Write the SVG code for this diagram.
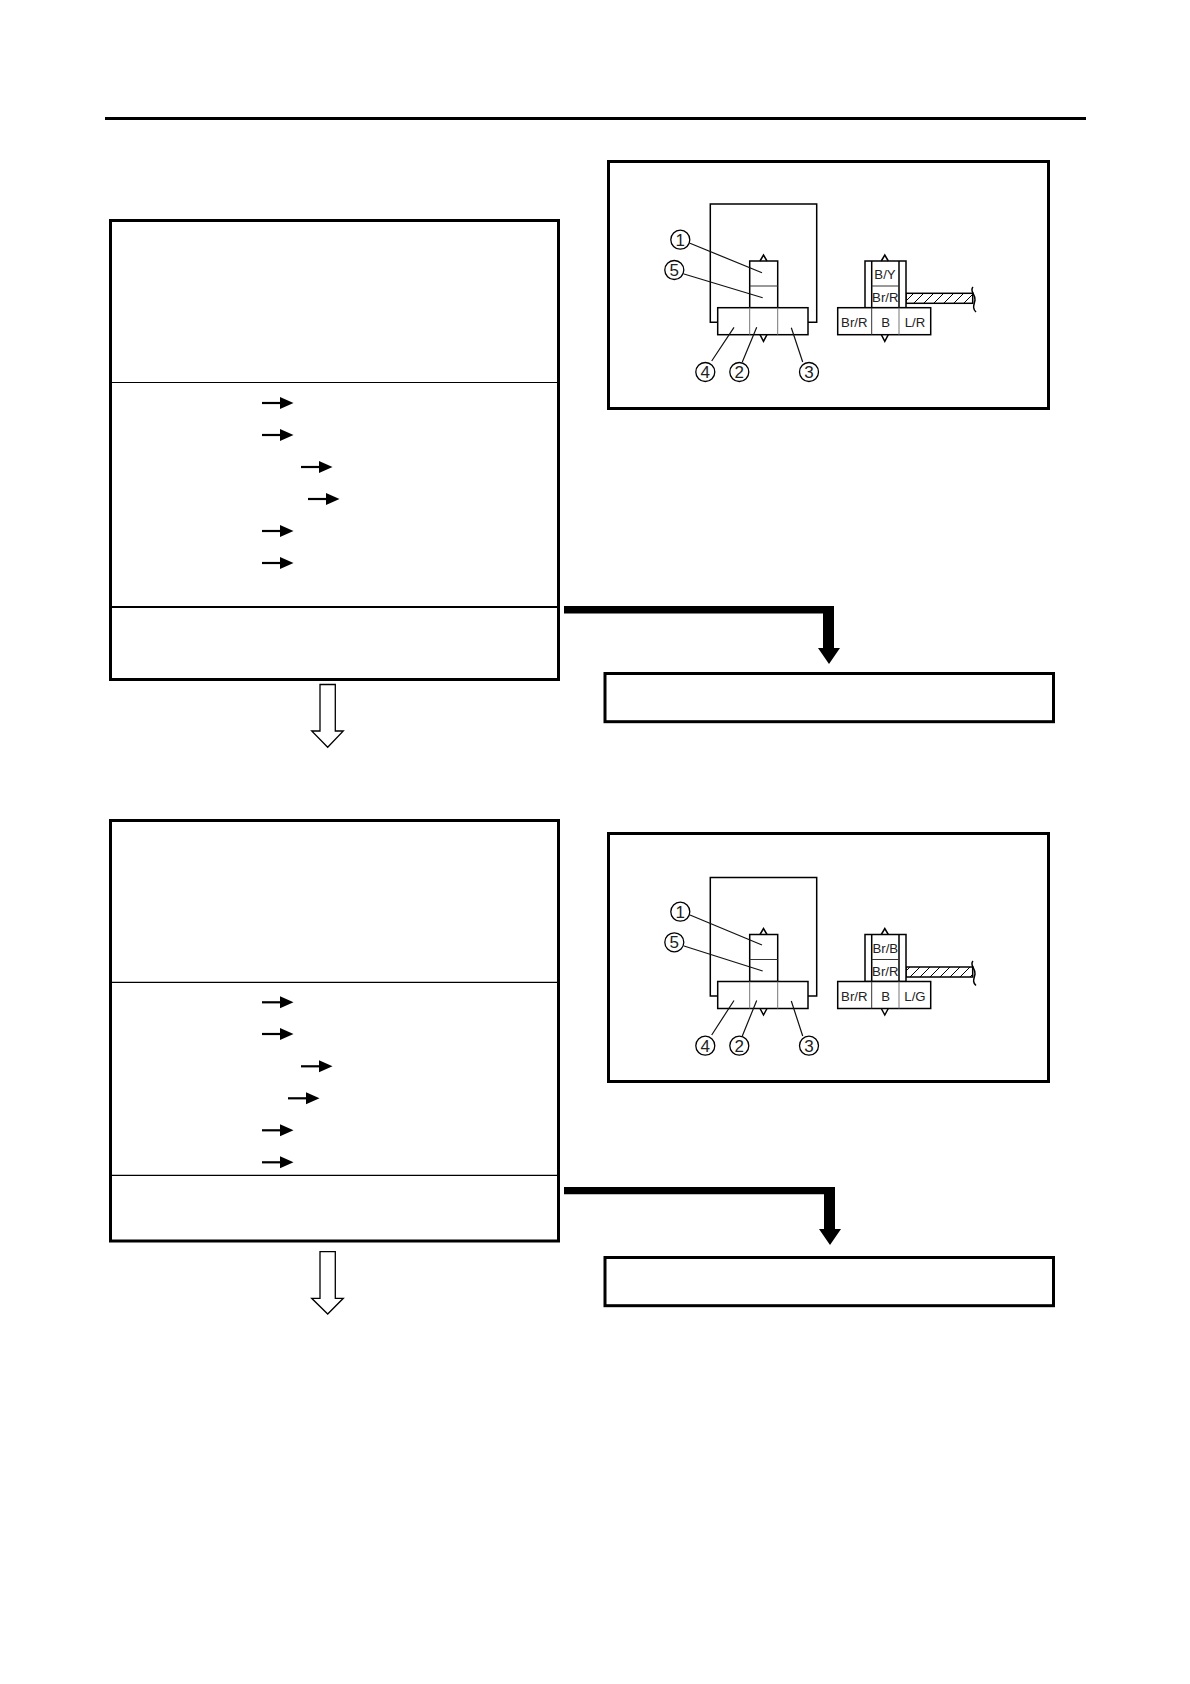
<svg xmlns="http://www.w3.org/2000/svg" xmlns:xlink="http://www.w3.org/1999/xlink" width="1190" height="1684" viewBox="0 0 1190 1684">
<style>
.box{fill:#fff;stroke:#000;stroke-width:3}
.thin{fill:none;stroke:#000;stroke-width:1.5}
.hair{fill:none;stroke:#333;stroke-width:1}
.part{fill:#fff;stroke:#000;stroke-width:1.5}
.sep{fill:none;stroke:#777;stroke-width:1}
.lead{fill:none;stroke:#111;stroke-width:1.2}
.circ{fill:#fff;stroke:#000;stroke-width:1.3}
.hollow{fill:#fff;stroke:#000;stroke-width:1.3}
.solid{fill:#000;stroke:none}
text{font-family:"Liberation Sans",Arial,sans-serif;font-size:13.2px;fill:#222;text-anchor:middle}
.num{font-size:17px}
</style>
<defs>
<pattern id="hatch" width="10" height="10" patternUnits="userSpaceOnUse" patternTransform="translate(907 0)">
<path d="M-2,12 L12,-2 M-2,2 L2,-2 M8,12 L12,8" stroke="#000" stroke-width="1" fill="none"/>
</pattern>
<g id="sarrow">
<path d="M0,0 H20" stroke="#000" stroke-width="2.2" fill="none"/>
<path d="M18,-6 L31.5,0 L18,6 Z" class="solid"/>
</g>
</defs>
<rect width="1190" height="1684" fill="#fff"/>
<path id="top-rule" d="M105,118.5 H1086" stroke="#000" stroke-width="3" fill="none"/>

<g id="step1-box">
<rect class="box" x="110.5" y="220.5" width="448" height="459"/>
<path d="M112,382.5 H557" stroke="#000" stroke-width="1.2" fill="none"/>
<path d="M112,607 H557" stroke="#000" stroke-width="2" fill="none"/>
</g>
<g id="step1-result"><rect class="box" x="605" y="673.5" width="448.5" height="48.2"/></g>
<g id="step2-box">
<rect class="box" x="110.5" y="820.5" width="448" height="420.5"/>
<path d="M112,982.3 H557" stroke="#000" stroke-width="1.2" fill="none"/>
<path d="M112,1175.3 H557" stroke="#000" stroke-width="1.2" fill="none"/>
</g>
<g id="step2-result"><rect class="box" x="605" y="1257.5" width="448.5" height="48.2"/></g>

<g id="figure1">
<rect class="box" x="608.5" y="161.5" width="440" height="247"/>
<path class="thin" d="M717.7,322.3 H710.3 V204 H816.7 V322.3 H808"/>
<rect class="part" x="749.7" y="261" width="28" height="46.7"/>
<path class="hair" d="M749.7,286 H777.7"/>
<rect class="part" x="717.7" y="307.7" width="90.3" height="27"/>
<path class="sep" d="M749.7,307.7 V334.7 M777.7,307.7 V334.7"/>
<path class="thin" d="M760,261 L763.5,255 L767,261 M760,334.7 L763.5,341.3 L767,334.7"/>
<path class="lead" d="M690,243.3 L762,272.7 M684,274 L762.7,297.7 M711.7,361 L734,327.3 M742.3,362 L756.7,327.3 M802.7,362 L791.3,327.7"/>
<circle class="circ" cx="680.3" cy="239.7" r="9.5"/><text class="num" x="680.3" y="245.8">1</text>
<circle class="circ" cx="674.3" cy="270" r="9.5"/><text class="num" x="674.3" y="276.1">5</text>
<circle class="circ" cx="705.3" cy="372" r="9.5"/><text class="num" x="705.3" y="378.1">4</text>
<circle class="circ" cx="739.3" cy="372" r="9.5"/><text class="num" x="739.3" y="378.1">2</text>
<circle class="circ" cx="809" cy="372" r="9.5"/><text class="num" x="809" y="378.1">3</text>
<rect x="906" y="293.3" width="66.7" height="10" fill="url(#hatch)" stroke="#000" stroke-width="1.5"/>
<path class="thin" d="M973,287 C969,291 976,295 975,300 C974,305 972,308 976,312"/>
<rect class="part" x="865" y="261" width="41" height="46.7"/>
<path class="thin" d="M871.7,261 V307.7 M899,261 V307.7"/>
<path class="hair" d="M871.7,286 H899"/>
<rect class="part" x="837.7" y="307.7" width="93" height="27"/>
<path class="hair" d="M871.7,307.7 V334.7"/>
<path class="sep" d="M899,307.7 V334.7"/>
<path class="thin" d="M881.3,261 L884.8,255 L888.3,261 M881.3,334.7 L884.8,341.3 L888.3,334.7"/>
<text x="885" y="279">B/Y</text>
<text x="885.3" y="302">Br/R</text>
<text x="854.3" y="327.3">Br/R</text>
<text x="885.7" y="327.3">B</text>
<text x="915" y="327.3">L/R</text>
</g>

<g id="figure2">
<rect class="box" x="608.5" y="833.5" width="440" height="248"/>
<path class="thin" d="M717.7,996 H710.3 V877.5 H816.7 V996 H808"/>
<rect class="part" x="749.7" y="934.5" width="28" height="47"/>
<path class="hair" d="M749.7,959.5 H777.7"/>
<rect class="part" x="717.7" y="981.5" width="90.3" height="27"/>
<path class="sep" d="M749.7,981.5 V1008.5 M777.7,981.5 V1008.5"/>
<path class="thin" d="M760,934.5 L763.5,928.5 L767,934.5 M760,1008.5 L763.5,1015 L767,1008.5"/>
<path class="lead" d="M690,915 L762,945 M684,946 L762.7,971 M711.7,1035 L734,1000.5 M742.3,1036 L756.7,1000.5 M802.7,1036 L791.3,1001"/>
<circle class="circ" cx="680.3" cy="911.7" r="9.5"/><text class="num" x="680.3" y="917.8">1</text>
<circle class="circ" cx="674.3" cy="942.3" r="9.5"/><text class="num" x="674.3" y="948.4">5</text>
<circle class="circ" cx="705.3" cy="1045.7" r="9.5"/><text class="num" x="705.3" y="1051.8">4</text>
<circle class="circ" cx="739.3" cy="1045.7" r="9.5"/><text class="num" x="739.3" y="1051.8">2</text>
<circle class="circ" cx="809" cy="1045.7" r="9.5"/><text class="num" x="809" y="1051.8">3</text>
<rect x="906" y="967" width="66.7" height="10" fill="url(#hatch)" stroke="#000" stroke-width="1.5"/>
<path class="thin" d="M973,961 C969,965 976,969 975,974 C974,979 972,982 976,985.5"/>
<rect class="part" x="865" y="934.5" width="41" height="47"/>
<path class="thin" d="M871.7,934.5 V981.5 M899,934.5 V981.5"/>
<path class="hair" d="M871.7,959.5 H899"/>
<rect class="part" x="837.7" y="981.5" width="93" height="27"/>
<path class="hair" d="M871.7,981.5 V1008.5"/>
<path class="sep" d="M899,981.5 V1008.5"/>
<path class="thin" d="M881.3,934.5 L884.8,928.5 L888.3,934.5 M881.3,1008.5 L884.8,1015 L888.3,1008.5"/>
<text x="885.3" y="953">Br/B</text>
<text x="885.3" y="976">Br/R</text>
<text x="854.3" y="1001">Br/R</text>
<text x="885.7" y="1001">B</text>
<text x="915" y="1001">L/G</text>
</g>

<g id="connectors">
<use xlink:href="#sarrow" x="262" y="403"/>
<use xlink:href="#sarrow" x="262" y="435"/>
<use xlink:href="#sarrow" x="301" y="467"/>
<use xlink:href="#sarrow" x="308" y="499"/>
<use xlink:href="#sarrow" x="262" y="531"/>
<use xlink:href="#sarrow" x="262" y="563"/>
<use xlink:href="#sarrow" x="262" y="1002.3"/>
<use xlink:href="#sarrow" x="262" y="1034"/>
<use xlink:href="#sarrow" x="301" y="1066.3"/>
<use xlink:href="#sarrow" x="288" y="1098.3"/>
<use xlink:href="#sarrow" x="262" y="1130.3"/>
<use xlink:href="#sarrow" x="262" y="1162.3"/>
<path class="hollow" d="M320,684.5 H335.3 V731 H343.3 L327.7,747.3 L311.7,731 H320 Z"/>
<path class="hollow" d="M320,1251.7 H335.3 V1298.3 H343.3 L327.7,1314 L311.7,1298.3 H320 Z"/>
<path class="solid" d="M564,605.9 H834 V648 H840 L829,664 L818,648 H823 V613.5 H564 Z"/>
<path class="solid" d="M564,1186.9 H835 V1229 H841 L830,1245 L819,1229 H824 V1194.3 H564 Z"/>
</g>
</svg>
